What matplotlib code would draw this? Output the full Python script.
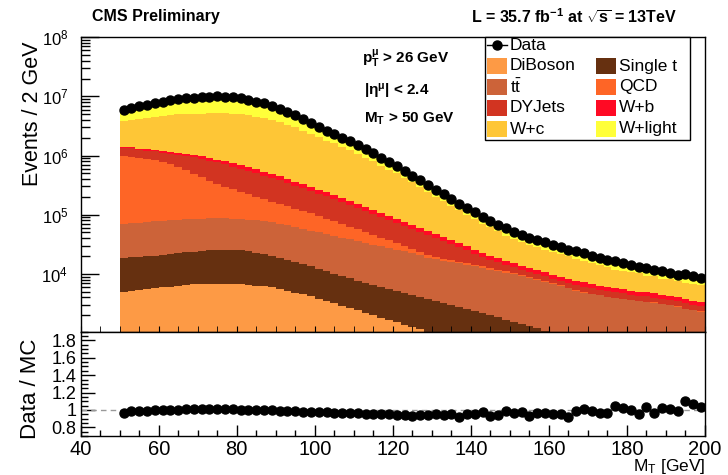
import numpy as np
import matplotlib
matplotlib.use("Agg")
import matplotlib.pyplot as plt
from matplotlib.patches import Rectangle
from matplotlib.lines import Line2D
from matplotlib.ticker import FixedLocator, MultipleLocator, LogLocator, NullFormatter, FuncFormatter

plt.rcParams["font.family"] = ["Liberation Sans", "DejaVu Sans"]
plt.rcParams["mathtext.fontset"] = "custom"
plt.rcParams["mathtext.rm"] = "Liberation Sans"
plt.rcParams["mathtext.it"] = "Liberation Sans:italic"
plt.rcParams["mathtext.bf"] = "Liberation Sans:bold"
plt.rcParams["mathtext.default"] = "regular"

# M_T binning, 2 GeV bins from 50 to 200
edges = np.arange(50, 202, 2)
centers = 0.5 * (edges[:-1] + edges[1:])

data = [5.9e6, 6.3e6, 6.8e6, 7.2e6, 7.7e6, 8.2e6, 8.6e6, 9.0e6, 9.3e6, 9.5e6,
        9.7e6, 9.9e6, 1.0e7, 9.9e6, 9.7e6, 9.3e6, 8.8e6, 8.2e6, 7.6e6, 6.9e6,
        6.2e6, 5.5e6, 4.8e6, 4.1e6, 3.5e6, 3.0e6, 2.6e6, 2.3e6, 2.0e6, 1.74e6,
        1.51e6, 1.29e6, 1.10e6, 9.1e5, 7.8e5, 6.6e5, 5.5e5, 4.6e5, 3.8e5, 3.2e5,
        2.6e5, 2.2e5, 1.82e5, 1.51e5, 1.29e5, 1.10e5, 9.3e4, 7.9e4, 6.8e4, 5.9e4,
        5.1e4, 4.6e4, 4.0e4, 3.7e4, 3.4e4, 3.1e4, 2.8e4, 2.5e4, 2.4e4, 2.24e4,
        2.04e4, 1.86e4, 1.70e4, 1.62e4, 1.51e4, 1.41e4, 1.29e4, 1.26e4, 1.15e4, 1.12e4,
        1.05e4, 9.5e3, 9.8e3, 9.1e3, 8.5e3]

diboson = [4900, 5130, 5250, 5500, 5690, 5890, 6030, 6240, 6460, 6610,
           6680, 6760, 6760, 6760, 6760, 6610, 6530, 6310, 6170, 5890,
           5500, 5130, 4790, 4470, 4170, 3800, 3470, 3160, 2880, 2630,
           2400, 2190, 2000, 1820, 1660, 1510, 1380, 1260, 1150, 1050,
           955, 870, 794, 741, 692, 650, 610, 570, 535, 500,
           470, 440, 415, 390, 365, 345, 325, 305, 285, 270,
           255, 240, 225, 212, 200, 188, 177, 166, 156, 147,
           138, 130, 122, 115, 108]

single_t = [13500, 13800, 14100, 14400, 14700, 15000, 15500, 16000, 16600, 17200,
            17800, 18300, 18600, 18700, 18600, 18200, 17500, 16500, 15500, 14400,
            13300, 12200, 11200, 10200, 9300, 8400, 7600, 6900, 6300, 5800,
            5300, 4900, 4500, 4200, 3900, 3600, 3350, 3100, 2850, 2650,
            2450, 2300, 2150, 2000, 1850, 1700, 1550, 1420, 1300, 1180,
            1070, 970, 880, 800, 730, 660, 600, 550, 500, 460,
            420, 385, 350, 320, 295, 270, 250, 230, 210, 195,
            180, 165, 152, 140, 130]

ttbar = [51000, 52500, 54000, 55300, 56500, 57500, 58500, 59300, 60000, 60600,
         61000, 61300, 61300, 61000, 60400, 59500, 58300, 57000, 55500, 53500,
         51300, 49000, 46500, 43500, 40500, 38000, 35800, 33700, 31700, 29800,
         28000, 26300, 24700, 23200, 21800, 20500, 19200, 18000, 16800, 15000,
         14200, 13500, 12900, 12300, 11700, 11000, 10400, 9800, 9300, 8800,
         8300, 7800, 7200, 6700, 6200, 5700, 5200, 4800, 4400, 4100,
         3900, 3700, 3500, 3400, 3250, 3150, 3050, 2950, 2830, 2720,
         2600, 2450, 2300, 2180, 2060]

qcd = [908000, 884000, 850000, 816000, 764000, 698000, 628000, 549000, 479000, 406000,
       341000, 286000, 244000, 209000, 183000, 161000, 139000, 120000, 105000, 92000,
       81000, 72000, 63000, 57000, 51000, 44000, 38000, 33000, 28300, 24200,
       20500, 16700, 14000, 11500, 9300, 7500, 6000, 3500, 2500, 1800,
       1500, 1300, 1200, 1100, 1000, 900, 800, 700, 650, 600,
       550, 500, 450, 400, 350, 300, 250, 200, 150, 100,
       0, 80, 0, 0, 60, 0, 0, 50, 80, 0,
       0, 60, 0, 0, 40]

dyjets = [372000, 363000, 336000, 325000, 334000, 346000, 364000, 392000, 415000, 443000,
          454000, 450000, 436000, 413000, 384000, 358000, 329000, 301000, 275000, 251000,
          229000, 205000, 183000, 164000, 146000, 132000, 119000, 105000, 93000, 82600,
          72800, 64900, 57100, 50500, 44600, 39300, 34700, 31700, 28000, 25200,
          21600, 18300, 15300, 12700, 9900, 7600, 6100, 4900, 3900, 3000,
          2500, 2000, 1750, 1500, 1370, 1320, 1300, 1220, 1200, 1170,
          1120, 970, 1100, 1000, 900, 850, 800, 750, 700, 680,
          650, 620, 600, 580, 550]

wb = [54000, 53000, 57000, 55000, 59000, 62000, 64000, 66000, 73000, 79000,
      84000, 86000, 88000, 88000, 88000, 87000, 85000, 83000, 78000, 71000,
      65000, 58000, 53000, 47000, 43000, 38000, 35000, 31000, 28000, 25000,
      22000, 19600, 17300, 15500, 13800, 12300, 11000, 9800, 8700, 7800,
      6900, 6200, 5500, 4900, 4300, 3700, 3300, 2960, 2670, 2400,
      2190, 2000, 1820, 1660, 1530, 1410, 1300, 1200, 1110, 1040,
      970, 910, 880, 840, 800, 760, 730, 700, 680, 640,
      610, 580, 540, 510, 490]

wc = [2397e3, 2555e3, 2848e3, 3080e3, 3292e3, 3529e3, 3700e3, 3889e3, 4005e3, 4069e3,
      4168e3, 4276e3, 4382e3, 4387e3, 4392e3, 4310e3, 4148e3, 3946e3, 3757e3, 3495e3,
      3237e3, 2948e3, 2644e3, 2320e3, 2024e3, 1776e3, 1553e3, 1395e3, 1225e3, 1061e3,
      917e3, 783e3, 681e3, 563e3, 484e3, 417e3, 348e3, 290e3, 234e3, 192e3,
      151e3, 126e3, 100e3, 85e3, 68.4e3, 57.7e3, 46.0e3, 40.8e3, 33.8e3, 26.9e3,
      23.0e3, 20.5e3, 18.8e3, 16.5e3, 15.1e3, 13.8e3, 12.4e3, 11.4e3, 10.2e3, 9.1e3,
      8.5e3, 8.0e3, 6.9e3, 5.7e3, 5.6e3, 5.5e3, 5.2e3, 4.4e3, 4.4e3, 3.9e3,
      4.0e3, 3.56e3, 3.3e3, 3.16e3, 3.12e3]

wlight = [2280e3, 2434e3, 2706e3, 2959e3, 3214e3, 3487e3, 3724e3, 3982e3, 4195e3, 4369e3,
          4517e3, 4666e3, 4713e3, 4666e3, 4517e3, 4300e3, 4017e3, 3670e3, 3348e3, 2947e3,
          2578e3, 2211e3, 1864e3, 1534e3, 1252e3, 1040e3, 878e3, 772e3, 665e3, 579e3,
          502e3, 432e3, 360e3, 288e3, 238e3, 196e3, 161e3, 135e3, 112e3, 93e3,
          75e3, 64e3, 53e3, 45e3, 37.2e3, 31.7e3, 26.1e3, 23.3e3, 19.8e3, 16.5e3,
          14.5e3, 13.0e3, 11.9e3, 10.6e3, 9.7e3, 8.9e3, 8.1e3, 7.5e3, 6.4e3, 5.8e3,
          5.5e3, 5.1e3, 4.7e3, 4.1e3, 3.6e3, 3.4e3, 3.3e3, 2.96e3, 2.9e3, 2.64e3,
          2.21e3, 2.04e3, 1.9e3, 1.81e3, 1.75e3]

samples = ["DiBoson", "Single t", r"$t\bar{t}$", "QCD", "DYJets", "W+b", "W+c", "W+light"]
colors = ["#fd9a45", "#663010", "#cc6339", "#fe6526", "#d23421", "#ff0a24", "#fec636", "#ffff3a"]

W, H = 728, 475
fig = plt.figure(figsize=(W / 100, H / 100), dpi=100)

def fx(x):
    return x / W

def fy(y):
    return 1 - y / H

ax = fig.add_axes([fx(80.7), fy(331.7), fx(705) - fx(80.7), fy(37.3) - fy(331.7)])
axr = fig.add_axes([fx(80.7), fy(436), fx(705) - fx(80.7), fy(331.7) - fy(436)], sharex=ax)

# stacked MC, drawn from the top layer down so each layer covers the one above it
stack = np.cumsum(np.vstack([diboson, single_t, ttbar, qcd, dyjets, wb, wc, wlight]), axis=0)
for top, col in reversed(list(zip(stack, colors))):
    ax.stairs(top, edges, baseline=1, fill=True, color=col, lw=0)

ax.plot(centers, data, "o", color="black", ms=6.5)

ax.set_yscale("log")
ax.set_ylim(1050, 1e8)
ax.set_xlim(40, 200)
ax.yaxis.set_major_locator(FixedLocator([1e4, 1e5, 1e6, 1e7, 1e8]))
ax.yaxis.set_minor_locator(LogLocator(base=10, subs=np.arange(2, 10), numticks=50))
ax.yaxis.set_minor_formatter(NullFormatter())
ax.tick_params(axis="y", which="major", direction="in", length=13, width=1, labelsize=12, pad=9)
ax.tick_params(axis="y", which="minor", direction="in", length=6.5, width=1)
ax.tick_params(axis="x", which="both", direction="in", labelbottom=False, length=4)
ax.xaxis.set_major_locator(MultipleLocator(20))
ax.xaxis.set_minor_locator(MultipleLocator(5))

# ratio panel
mc_total = stack[-1]
ratio = np.array(data) / mc_total
axr.axhline(1.0, color="#999999", ls=(0, (4, 3)), lw=1)
axr.plot(centers, ratio, "o", color="black", ms=6.5)
axr.set_ylim(0.7, 1.9)
axr.yaxis.set_major_locator(FixedLocator([0.8, 1.0, 1.2, 1.4, 1.6, 1.8]))
axr.yaxis.set_minor_locator(MultipleLocator(0.05))
axr.yaxis.set_major_formatter(FuncFormatter(lambda v, p: f"{v:g}"))
axr.tick_params(axis="y", which="major", direction="in", length=10, width=1, labelsize=13, pad=3)
axr.tick_params(axis="y", which="minor", direction="in", length=5, width=1)
axr.tick_params(axis="x", which="major", direction="in", length=8, width=1, labelsize=14.5, pad=3)
axr.tick_params(axis="x", which="minor", direction="in", length=4, width=1)

for a in (ax, axr):
    for s in a.spines.values():
        s.set_linewidth(1)

# axis titles
fig.text(fx(32), fy(114), "Events / 2 GeV", rotation=90, ha="center", va="center", fontsize=15.5)
fig.text(fx(30), fy(389), "Data / MC", rotation=90, ha="center", va="center", fontsize=16)
fig.text(fx(706), fy(467), "M$_T$ [GeV]", ha="right", va="center", fontsize=12.5)

# header
fig.text(fx(92), fy(17), "CMS Preliminary", ha="left", va="center", fontsize=11.5, fontweight="bold")
fig.text(fx(677), fy(17), r"L = 35.7 fb$^{\mathbf{-1}}$ at $\mathbf{\sqrt{s}}$ = 13TeV",
         ha="right", va="center", fontsize=11.5, fontweight="bold")

# selection cuts
fig.text(fx(362), fy(58), r"$\mathbf{p}_{\mathbf{T}}^{\mu}$ > 26 GeV", ha="left", va="center",
         fontsize=11, fontweight="bold")
fig.text(fx(364), fy(91), r"|$\eta^{\mu}$| < 2.4", ha="left", va="center",
         fontsize=11, fontweight="bold")
fig.text(fx(364), fy(119), r"$\mathbf{M}_{\mathbf{T}}$ > 50 GeV", ha="left", va="center",
         fontsize=11, fontweight="bold")

# legend box, drawn by hand to get the ROOT layout
fig.add_artist(Rectangle((fx(485), fy(140)), fx(690) - fx(485), fy(37.3) - fy(140),
                         transform=fig.transFigure, facecolor="white", edgecolor="black",
                         lw=1, zorder=5))
fig.add_artist(Line2D([fx(487), fx(507)], [fy(45), fy(45)], transform=fig.transFigure,
                      color="black", lw=1, zorder=6))
fig.add_artist(Line2D([fx(497)], [fy(45)], transform=fig.transFigure, marker="o",
                      color="black", ms=6.5, zorder=6))
fig.text(fx(510), fy(45), "Data", ha="left", va="center", fontsize=12.5, zorder=6)

rows_y = [66, 87, 108, 129]
col_x = [487, 596]
for i, (name, col) in enumerate(zip(samples, colors)):
    cx = col_x[i % 2]
    ry = rows_y[i // 2]
    fig.add_artist(Rectangle((fx(cx), fy(ry + 8)), fx(20), 16 / H, transform=fig.transFigure,
                             facecolor=col, edgecolor="none", zorder=6))
    fig.text(fx(cx + 23), fy(ry), name, ha="left", va="center", fontsize=12.5, zorder=6)

fig.savefig("out.png", dpi=100)
